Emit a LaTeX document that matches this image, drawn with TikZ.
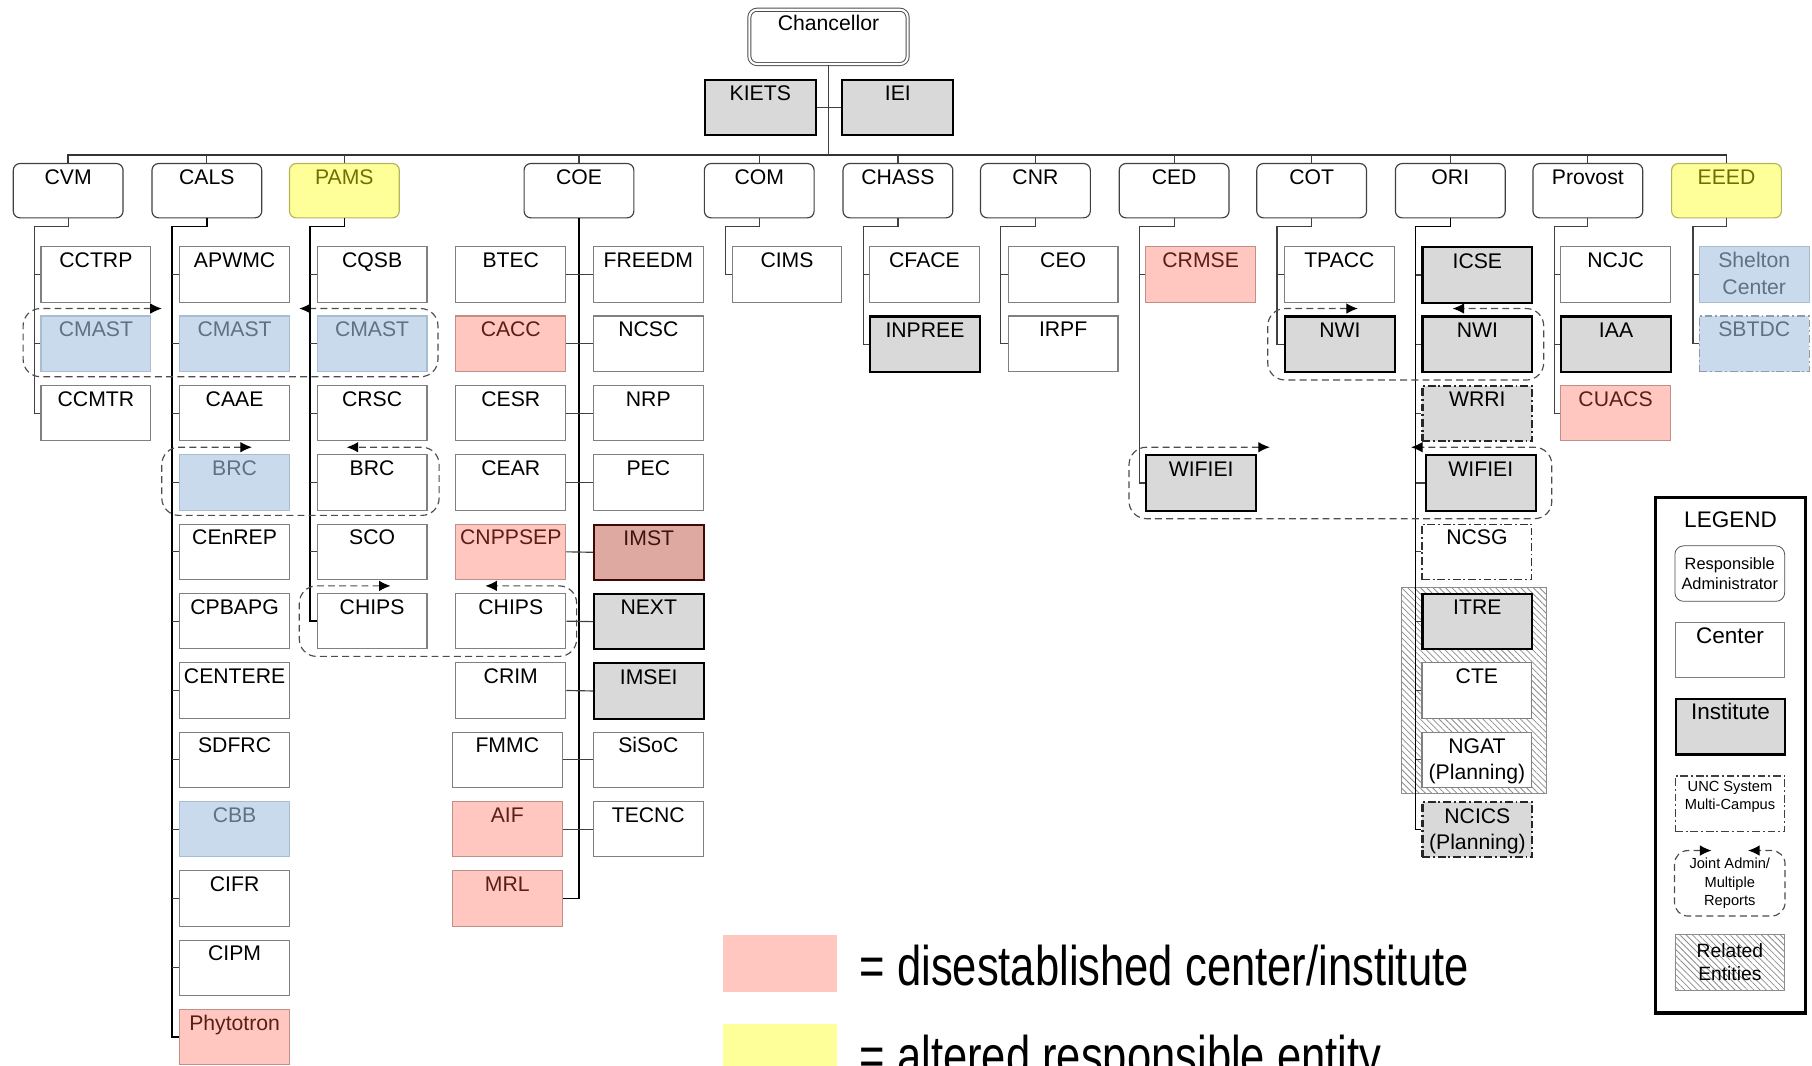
\documentclass[tikz,border=0pt]{standalone}
\usepackage{fontspec}
\setmainfont{Liberation Sans}
\newfontfamily\narrowfont[FakeStretch=0.78]{Liberation Sans}
\usetikzlibrary{arrows.meta,calc,patterns.meta,backgrounds}
\definecolor{pinkfill}{HTML}{FFC7C0}
\definecolor{pinkdraw}{HTML}{C09088}
\definecolor{pinktext}{HTML}{5A1E14}
\definecolor{rosefill}{HTML}{DDA9A0}
\definecolor{rosedraw}{HTML}{3D0A05}
\definecolor{rosetext}{HTML}{40140E}
\definecolor{bluefill}{HTML}{C8DAEC}
\definecolor{bluedraw}{HTML}{A9BCD0}
\definecolor{bluetext}{HTML}{5F7185}
\definecolor{yelfill}{HTML}{FFFF99}
\definecolor{yeldraw}{HTML}{B4B45A}
\definecolor{yeltext}{HTML}{707000}
\definecolor{instfill}{HTML}{D9D9D9}
\definecolor{ctrdraw}{HTML}{808080}
\tikzset{
  box/.style={draw=ctrdraw, line width=0.6pt, fill=white, anchor=north west,
    minimum width=57pt, inner xsep=0pt, inner ysep=0pt, text height=10.8pt,
    text depth=18pt, align=center, font=\fontsize{11}{13.5}\selectfont},
  twoline/.style={text height=24.6pt, text depth=4.2pt},
  ctr/.style={box},
  inst/.style={box, fill=instfill, draw=black, line width=1.1pt},
  dis/.style={box, fill=pinkfill, draw=pinkdraw, text=pinktext},
  rose/.style={box, fill=rosefill, draw=rosedraw, line width=1.1pt, text=rosetext},
  blu/.style={box, fill=bluefill, draw=bluedraw, text=bluetext},
  multi/.style={dash pattern=on 4pt off 1.5pt on 1pt off 1.5pt},
  admin/.style={box, rounded corners=3.5pt, draw=black!75, text depth=17.4pt},
  altered/.style={admin, fill=yelfill, draw=yeldraw, text=yeltext},
  conn/.style={draw=black!75, line width=0.6pt},
  trunk/.style={draw=black, line width=0.9pt},
  joint/.style={draw=black!70, line width=0.6pt, dash pattern=on 3.6pt off 2.2pt,
    rounded corners=9pt,
    {Latex[length=6pt,width=5.5pt,black]}-{Latex[length=6pt,width=5.5pt,black]}},
  related/.style={draw=black!45, line width=0.5pt,
    pattern={Lines[angle=-45,distance=2.3pt,line width=0.4pt]}, pattern color=black!45},
  legsmall/.style={anchor=north west, minimum width=57pt, minimum height=28.8pt,
    inner sep=0pt, align=center},
  keytext/.style={anchor=base west, font=\narrowfont\fontsize{29}{32}\selectfont}
}
\begin{document}
\begin{tikzpicture}[x=0.6pt,y=-0.6pt]
\useasboundingbox (0,0) rectangle (1568,922);
\clip (0,0) rectangle (1568,922);
% ---------- top ----------
\node[admin, minimum width=82.2pt, double, double distance=1.1pt, line width=0.5pt,
      draw=black!70, rounded corners=4pt] (chan) at (648,8) {Chancellor};
\node[inst, minimum width=57.6pt] (kiets) at (609,68) {KIETS};
\node[inst, minimum width=57.6pt] (iei) at (728,68) {IEI};
% responsible entities
\node[admin]   (CVM)   at (11,141)   {CVM};
\node[admin]   (CALS)  at (131,141)  {CALS};
\node[altered] (PAMS)  at (250,141)  {PAMS};
\node[admin]   (COE)   at (453,141)  {COE};
\node[admin]   (COM)   at (609,141)  {COM};
\node[admin]   (CHASS) at (729,141)  {CHASS};
\node[admin]   (CNR)   at (848,141)  {CNR};
\node[admin]   (CED)   at (968,141)  {CED};
\node[admin]   (COT)   at (1087,141) {COT};
\node[admin]   (ORI)   at (1207,141) {ORI};
\node[admin]   (PROV)  at (1326,141) {Provost};
\node[altered] (EEED)  at (1446,141) {EEED};
% ---------- CVM ----------
\node[ctr] (cvm1) at (35,213) {CCTRP};
\node[blu] (cvm2) at (35,273) {CMAST};
\node[ctr] (cvm3) at (35,333) {CCMTR};
% ---------- CALS ----------
\node[ctr] (cals1) at (155,213) {APWMC};
\node[blu] (cals2) at (155,273) {CMAST};
\node[ctr] (cals3) at (155,333) {CAAE};
\node[blu] (cals4) at (155,393) {BRC};
\node[ctr] (cals5) at (155,453) {CEnREP};
\node[ctr] (cals6) at (155,513) {CPBAPG};
\node[ctr] (cals7) at (155,573) {CENTERE};
\node[ctr] (cals8) at (155,633) {SDFRC};
\node[blu] (cals9) at (155,693) {CBB};
\node[ctr] (cals10) at (155,753) {CIFR};
\node[ctr] (cals11) at (155,813) {CIPM};
\node[dis] (cals12) at (155,873) {Phytotron};
% ---------- PAMS ----------
\node[ctr] (pams1) at (274,213) {CQSB};
\node[blu] (pams2) at (274,273) {CMAST};
\node[ctr] (pams3) at (274,333) {CRSC};
\node[ctr] (pams4) at (274,393) {BRC};
\node[ctr] (pams5) at (274,453) {SCO};
\node[ctr] (pams6) at (274,513) {CHIPS};
% ---------- COE ----------
\node[ctr] (coeL1) at (394,213) {BTEC};
\node[dis] (coeL2) at (394,273) {CACC};
\node[ctr] (coeL3) at (394,333) {CESR};
\node[ctr] (coeL4) at (394,393) {CEAR};
\node[dis] (coeL5) at (394,453) {CNPPSEP};
\node[ctr] (coeL6) at (394,513) {CHIPS};
\node[ctr] (coeL7) at (394,573) {CRIM};
\node[ctr] (coeL8) at (391,633) {FMMC};
\node[dis] (coeL9) at (391,693) {AIF};
\node[dis] (coeL10) at (391,753) {MRL};
\node[ctr]  (coeR1) at (513,213) {FREEDM};
\node[ctr]  (coeR2) at (513,273) {NCSC};
\node[ctr]  (coeR3) at (513,333) {NRP};
\node[ctr]  (coeR4) at (513,393) {PEC};
\node[rose] (coeR5) at (513,453) {IMST};
\node[inst] (coeR6) at (513,513) {NEXT};
\node[inst] (coeR7) at (513,573) {IMSEI};
\node[ctr]  (coeR8) at (513,633) {SiSoC};
\node[ctr]  (coeR9) at (513,693) {TECNC};
% ---------- COM, CHASS, CNR ----------
\node[ctr]  (com1) at (633,213) {CIMS};
\node[ctr]  (chass1) at (752,213) {CFACE};
\node[inst] (chass2) at (752,273) {INPREE};
\node[ctr]  (cnr1) at (872,213) {CEO};
\node[ctr]  (cnr2) at (872,273) {IRPF};
% ---------- CED, COT ----------
\node[dis]  (ced1) at (991,213) {CRMSE};
\node[inst] (ced4) at (991,393) {WIFIEI};
\node[ctr]  (cot1) at (1111,213) {TPACC};
\node[inst] (cot2) at (1111,273) {NWI};
% ---------- ORI ----------
\begin{scope}[on background layer]
\path[related] (1213,508) rectangle (1338,687);
\end{scope}
\node[inst] (ori1) at (1230,213) {ICSE};
\node[inst] (ori2) at (1230,273) {NWI};
\node[inst, multi, draw=black!85] (ori3) at (1230,333) {WRRI};
\node[inst] (ori4) at (1233,393) {WIFIEI};
\node[ctr, multi, draw=black!80] (ori5) at (1230,453) {NCSG};
\node[inst] (ori6) at (1230,513) {ITRE};
\node[ctr]  (ori7) at (1230,573) {CTE};
\node[ctr, twoline]  (ori8) at (1230,633) {NGAT\\(Planning)};
\node[inst, multi, draw=black!85, twoline] (ori9) at (1230,693) {NCICS\\(Planning)};
% ---------- Provost, EEED ----------
\node[ctr]  (prov1) at (1350,213) {NCJC};
\node[inst] (prov2) at (1350,273) {IAA};
\node[dis]  (prov3) at (1350,333) {CUACS};
\node[blu, twoline, font=\fontsize{11}{14}\selectfont, text height=24.8pt, text depth=4pt]
      (eeed1) at (1470,213) {Shelton\\Center};
\node[blu, multi, draw=bluetext!70] (eeed2) at (1470,273) {SBTDC};
% ---------- top connectors ----------
\path (CVM.north) ++(0,-7) coordinate (bus);
\draw[conn, line width=0.8pt, draw=black!80] (CVM.north) -- (bus) -| (EEED.north);
\foreach \n in {CALS,PAMS,COE,COM,CHASS,CNR,CED,COT,ORI,PROV}
  \draw[conn] (\n.north) -- (\n.north |- bus);
\draw[conn] (chan.south) -- (chan.south |- bus);
\draw[conn] (kiets.east) -- (iei.west);
% ---------- column trunks ----------
\coordinate (tCVM) at ($(cvm1.west)+(-5,0)$);
\coordinate (tCALS) at ($(cals1.west)+(-6,0)$);
\coordinate (tPAMS) at ($(pams1.west)+(-6,0)$);
\coordinate (tCOM) at ($(com1.west)+(-5,0)$);
\coordinate (tCHASS) at ($(chass1.west)+(-5,0)$);
\coordinate (tCNR) at ($(cnr1.west)+(-6,0)$);
\coordinate (tCED) at ($(ced1.west)+(-5,0)$);
\coordinate (tCOT) at ($(cot1.west)+(-6,0)$);
\coordinate (tORI) at ($(ori1.west)+(-5,0)$);
\coordinate (tPROV) at ($(prov1.west)+(-5,0)$);
\coordinate (tEEED) at ($(eeed1.west)+(-5,0)$);
\draw[conn]  (CVM.south) -- ++(0,7) -| (cvm3.west -| tCVM) -- (cvm3.west);
\draw[trunk] (CALS.south) -- ++(0,7) -| (cals12.west -| tCALS) -- (cals12.west);
\draw[trunk] (PAMS.south) -- ++(0,7) -| (pams6.west -| tPAMS) -- (pams6.west);
\draw[conn]  (COM.south) -- ++(0,7) -| (com1.west -| tCOM) -- (com1.west);
\draw[conn]  (CHASS.south) -- ++(0,7) -| (chass2.west -| tCHASS) -- (chass2.west);
\draw[conn]  (CNR.south) -- ++(0,7) -| (cnr2.west -| tCNR) -- (cnr2.west);
\draw[conn]  (CED.south) -- ++(0,7) -| (ced4.west -| tCED) -- (ced4.west);
\draw[conn]  (COT.south) -- ++(0,7) -| (cot2.west -| tCOT) -- (cot2.west);
\draw[conn, draw=black] (ORI.south) -- ++(0,7) -| (ori9.west -| tORI) -- (ori9.west);
\draw[conn]  (PROV.south) -- ++(0,7) -| (prov3.west -| tPROV) -- (prov3.west);
\draw[conn]  (EEED.south) -- ++(0,7) -| (eeed2.west -| tEEED) -- (eeed2.west);
\foreach \n in {cvm1,cvm2} \draw[conn] (\n.west) -- (\n.west -| tCVM);
\foreach \n in {cals1,cals2,cals3,cals4,cals5,cals6,cals7,cals8,cals9,cals10,cals11}
  \draw[conn] (\n.west) -- (\n.west -| tCALS);
\foreach \n in {pams1,pams2,pams3,pams4,pams5} \draw[conn] (\n.west) -- (\n.west -| tPAMS);
\draw[conn] (chass1.west) -- (chass1.west -| tCHASS);
\draw[conn] (cnr1.west) -- (cnr1.west -| tCNR);
\draw[conn] (ced1.west) -- (ced1.west -| tCED);
\draw[conn] (cot1.west) -- (cot1.west -| tCOT);
\foreach \n in {ori1,ori2,ori3,ori4,ori5,ori6,ori7,ori8} \draw[conn] (\n.west) -- (\n.west -| tORI);
\foreach \n in {prov1,prov2} \draw[conn] (\n.west) -- (\n.west -| tPROV);
\draw[conn] (eeed1.west) -- (eeed1.west -| tEEED);
% COE
\draw[trunk] (COE.south) -- (COE.south |- coeL10.east) -- (coeL10.east);
\foreach \i in {1,...,9} \draw[conn] (coeL\i.east) -- (coeR\i.west);
% ---------- joint administration groups ----------
\draw[joint] ($(cals2.north west)+(-15,-6)$) -- ($(cvm2.north west)+(-15,-6)$)
  -- ($(cvm2.south west)+(-15,4)$) -- ($(pams2.south east)+(9,4)$)
  -- ($(pams2.north east)+(9,-6)$) -- ($(pams2.north west)+(-15,-6)$);
\draw[joint] ($(cals4.north west)+(63,-6)$) -- ($(cals4.north west)+(-15,-6)$)
  -- ($(cals4.south west)+(-15,4)$) -- ($(pams4.south east)+(10,4)$)
  -- ($(pams4.north east)+(10,-6)$) -- ($(pams4.north west)+(26,-6)$);
\draw[joint] ($(pams6.north west)+(64,-6)$) -- ($(pams6.north west)+(-15,-6)$)
  -- ($(pams6.south west)+(-15,6)$) -- ($(coeL6.south east)+(9,6)$)
  -- ($(coeL6.north east)+(9,-6)$) -- ($(coeL6.north west)+(26,-6)$);
\draw[joint] ($(cot2.north west)+(64,-6)$) -- ($(cot2.north west)+(-14,-6)$)
  -- ($(cot2.south west)+(-14,6)$) -- ($(ori2.south east)+(9,6)$)
  -- ($(ori2.north east)+(9,-6)$) -- ($(ori2.north west)+(27,-6)$);
\draw[joint] ($(ced4.north east)+(11,-6)$) -- ($(ced4.north west)+(-14,-6)$)
  -- ($(ced4.south west)+(-14,6)$) -- ($(ori4.south east)+(13,6)$)
  -- ($(ori4.north east)+(13,-6)$) -- ($(ori4.north west)+(-12,-6)$);
% ---------- legend ----------
\node[draw=black, line width=1.8pt, anchor=north west, minimum width=78pt, inner sep=0pt,
      text height=15.6pt, text depth=252pt, font=\fontsize{11.7}{14}\selectfont]
      (legend) at (1431,429) {LEGEND};
\node[legsmall, draw=black!70, rounded corners=4.5pt, font=\fontsize{8.5}{10}\selectfont]
      (legadmin) at (1449,472) {Responsible\\Administrator};
\node[ctr, font=\fontsize{11.7}{14}\selectfont] (legctr) at (1449,538) {Center};
\node[inst, font=\fontsize{11.7}{14}\selectfont] (leginst) at (1449,604) {Institute};
\node[ctr, multi, draw=black!75, text height=17.4pt, text depth=11.4pt,
      font=\fontsize{7.6}{9.6}\selectfont] (legmulti) at (1449,671) {UNC System\\Multi-Campus};
\node[legsmall, minimum height=33.6pt, font=\fontsize{7.6}{9.6}\selectfont]
      (legjoint) at (1449,736) {Joint Admin/\\Multiple\\Reports};
\draw[joint, rounded corners=7pt] ($(legjoint.north west)+(32,0)$) -- (legjoint.north west)
  -- (legjoint.south west) -- (legjoint.south east) -- (legjoint.north east)
  -- ($(legjoint.north east)+(-32,0)$);
\node[legsmall, related, minimum height=29.4pt, font=\fontsize{10}{12}\selectfont]
      (legrel) at (1449,808) {Related\\Entities};
% ---------- colour key ----------
\node[fill=pinkfill, anchor=north west, minimum width=59.4pt, minimum height=29.4pt, inner sep=0pt]
      (keypink) at (625,809) {};
\node[keytext] (keypinktext) at (738,853) {= disestablished center/institute};
\node[fill=yelfill, anchor=north west, minimum width=59.4pt, minimum height=29.4pt, inner sep=0pt]
      (keyyel) at (625,886) {};
\node[keytext] (keyyeltext) at (738,931) {= altered responsible entity};
\end{tikzpicture}
\end{document}
